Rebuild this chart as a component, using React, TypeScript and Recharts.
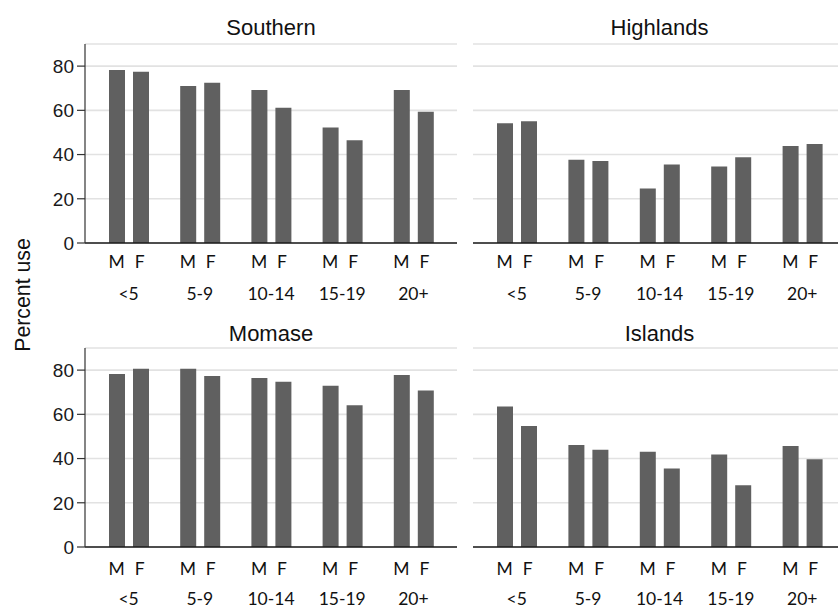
import React from 'react';
import { BarChart, Bar, XAxis, YAxis, CartesianGrid } from 'recharts';

const ageGroups = ['<5', '5-9', '10-14', '15-19', '20+'];
const yTicks = [0, 20, 40, 60, 80];

const southernMale = [78.2, 71.0, 69.2, 52.2, 69.2];
const southernFemale = [77.5, 72.5, 61.2, 46.5, 59.4];
const highlandsMale = [54.2, 37.6, 24.7, 34.6, 43.9];
const highlandsFemale = [55.1, 37.1, 35.5, 38.8, 44.8];
const momaseMale = [78.2, 80.6, 76.4, 72.9, 77.8];
const momaseFemale = [80.6, 77.3, 74.7, 64.1, 70.8];
const islandsMale = [63.5, 46.1, 43.1, 41.8, 45.7];
const islandsFemale = [54.7, 44.0, 35.5, 27.9, 39.7];

const buildData = (male: number[], female: number[]) =>
  ageGroups.map((g, i) => ({ group: g, male: male[i], female: female[i] }));

const BAR_COLOR = '#606060';
const LABEL_FONT = 'Lato, "Open Sans", sans-serif';
const ARIAL = '"Liberation Sans", Arial, sans-serif';

const AgeTick = (props: any) => {
  const { x, y, payload, mfDy, ageDy } = props;
  return (
    <g>
      <text x={x - 12} y={y + mfDy} textAnchor="middle" fontFamily={LABEL_FONT} fontSize={17.5} fill="#111">M</text>
      <text x={x + 11} y={y + mfDy} textAnchor="middle" fontFamily={LABEL_FONT} fontSize={17.5} fill="#111">F</text>
      <text x={x} y={y + ageDy} textAnchor="middle" fontFamily={LABEL_FONT} fontSize={17.5} fill="#111">{payload.value}</text>
    </g>
  );
};

type PanelProps = {
  data: { group: string; male: number; female: number }[];
  left: number;
  top: number;
  showY: boolean;
  mfDy: number;
  ageDy: number;
};

const Panel = ({ data, left, top, showY, mfDy, ageDy }: PanelProps) => {
  const width = showY ? 470 : 390;
  const margin = showY
    ? { top: 44, right: 13, left: 0, bottom: 0 }
    : { top: 44, right: 9, left: 8, bottom: 0 };
  return (
    <div style={{ position: 'absolute', left, top }}>
      <BarChart width={width} height={305} data={data} margin={margin} barSize={16} barGap={8}>
        <CartesianGrid vertical={false} stroke="#e2e2e2" strokeWidth={1.6} />
        <XAxis
          dataKey="group"
          height={62}
          padding={{ left: 8, right: 8 }}
          tickLine={false}
          tickSize={0}
          tickMargin={0}
          interval={0}
          axisLine={{ stroke: '#1a1a1a', strokeWidth: 1.4 }}
          tick={(p: any) => <AgeTick {...p} mfDy={mfDy} ageDy={ageDy} />}
        />
        {showY ? (
          <YAxis
            width={85}
            domain={[0, 90]}
            ticks={yTicks}
            allowDataOverflow
            tickSize={8}
            tickMargin={3}
            axisLine={{ stroke: '#333', strokeWidth: 1.2 }}
            tickLine={{ stroke: '#333', strokeWidth: 1.2 }}
            tick={{ fontFamily: ARIAL, fontSize: 19, fill: '#1a1a1a' }}
          />
        ) : (
          <YAxis hide domain={[0, 90]} ticks={yTicks} allowDataOverflow />
        )}
        <Bar dataKey="male" fill={BAR_COLOR} isAnimationActive={false} />
        <Bar dataKey="female" fill={BAR_COLOR} isAnimationActive={false} />
      </BarChart>
    </div>
  );
};

export default function App() {
  return (
    <div style={{ position: 'absolute', left: 0, top: 0, width: 838, height: 608, overflow: 'hidden', background: '#fff' }}>
      <Panel data={buildData(southernMale, southernFemale)} left={0} top={0} showY mfDy={25} ageDy={57} />
      <Panel data={buildData(highlandsMale, highlandsFemale)} left={465} top={0} showY={false} mfDy={25} ageDy={57} />
      <Panel data={buildData(momaseMale, momaseFemale)} left={0} top={304} showY mfDy={28} ageDy={58} />
      <Panel data={buildData(islandsMale, islandsFemale)} left={465} top={304} showY={false} mfDy={28} ageDy={58} />
      <svg width={838} height={608} style={{ position: 'absolute', left: 0, top: 0, pointerEvents: 'none' }}>
        <text x={271} y={35} textAnchor="middle" fontFamily={ARIAL} fontSize={22} fill="#111">Southern</text>
        <text x={659.5} y={35} textAnchor="middle" fontFamily={ARIAL} fontSize={22} fill="#111">Highlands</text>
        <text x={271} y={341} textAnchor="middle" fontFamily={ARIAL} fontSize={22} fill="#111">Momase</text>
        <text x={659.5} y={341} textAnchor="middle" fontFamily={ARIAL} fontSize={22} fill="#111">Islands</text>
        <text x={30} y={295} textAnchor="middle" fontFamily={ARIAL} fontSize={21.3} fill="#111" transform="rotate(-90 30 295)">Percent use</text>
      </svg>
    </div>
  );
}
